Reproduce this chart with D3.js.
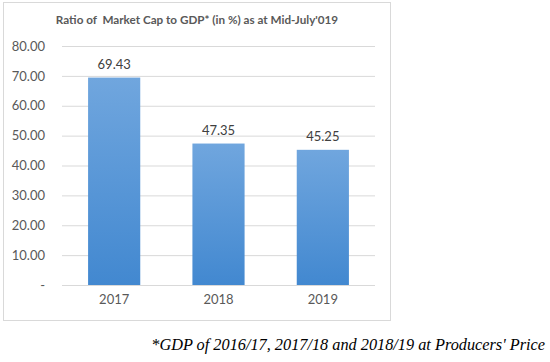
<!DOCTYPE html>
<html>
<head>
<meta charset="utf-8">
<script src="https://cdn.jsdelivr.net/npm/d3@7"></script>
<style>
  body { margin: 0; background: #fff; }
  svg { display: block; }
</style>
</head>
<body>
<div id="chart"></div>
<script>
const years = ["2017", "2018", "2019"];
const ratios = [69.43, 47.35, 45.25];
const yTicks = [0, 10, 20, 30, 40, 50, 60, 70, 80];

const width = 550, height = 362;
const svg = d3.select("#chart").append("svg")
    .attr("width", width).attr("height", height);

// gradient for the bars
var grad = svg.append("defs").append("linearGradient")
    .attr("id", "barGrad").attr("x1", 0).attr("y1", 0).attr("x2", 0).attr("y2", 1);
grad.append("stop").attr("offset", "0%").attr("stop-color", "#70a6de");
grad.append("stop").attr("offset", "100%").attr("stop-color", "#4288d0");

// chart frame
svg.append("rect")
    .attr("x", 3.5).attr("y", 2.5)
    .attr("width", 387).attr("height", 318)
    .attr("fill", "none").attr("stroke", "#d9d9d9");

const x = d3.scaleBand().domain(years).range([62, 375])
    .paddingInner(0.5).paddingOuter(0.25);
const y = d3.scaleLinear().domain([0, 80]).range([285, 46]);

const font = "Lato, 'Open Sans', sans-serif";

// title
svg.append("text")
    .attr("x", 197).attr("y", 24)
    .attr("text-anchor", "middle")
    .style("font-family", font)
    .style("font-size", "11.7px")
    .style("font-weight", "bold")
    .style("white-space", "pre")
    .style("fill", "#595959")
    .text("Ratio of  Market Cap to GDP* (in %) as at Mid-July'019");

// y axis with grid
const yAxis = d3.axisLeft(y)
    .tickValues(yTicks)
    .tickSize(-(375 - 62))
    .tickPadding(17)
    .tickFormat(function(d) { return d === 0 ? "-" : d3.format(".2f")(d); });

const gy = svg.append("g").attr("transform", "translate(62,0)").call(yAxis);
gy.select(".domain").remove();
gy.selectAll(".tick line").attr("stroke", "#d9d9d9");
gy.selectAll(".tick text")
    .style("font-family", font)
    .style("font-size", "13px")
    .style("fill", "#595959");

// bars
svg.selectAll("rect.bar")
    .data(ratios)
    .enter()
    .append("rect")
    .attr("class", "bar")
    .attr("x", function(d, i) { return x(years[i]); })
    .attr("y", function(d) { return y(d); })
    .attr("width", x.bandwidth())
    .attr("height", function(d) { return y(0) - y(d); })
    .attr("fill", "url(#barGrad)");

// value labels
svg.selectAll("text.val")
    .data(ratios)
    .enter()
    .append("text")
    .attr("class", "val")
    .attr("x", function(d, i) { return x(years[i]) + x.bandwidth() / 2; })
    .attr("y", function(d) { return y(d) - 9; })
    .attr("text-anchor", "middle")
    .style("font-family", font)
    .style("font-size", "13px")
    .style("fill", "#404040")
    .text(function(d) { return d3.format(".2f")(d); });

// x axis labels
const xAxis = d3.axisBottom(x).tickSize(0).tickPadding(10);
const gx = svg.append("g").attr("transform", "translate(0,285)").call(xAxis);
gx.select(".domain").remove();
gx.selectAll(".tick text")
    .style("font-family", font)
    .style("font-size", "13px")
    .style("fill", "#595959");

// footnote
svg.append("text")
    .attr("x", 545).attr("y", 350)
    .attr("text-anchor", "end")
    .style("font-family", "'Liberation Serif', 'Times New Roman', serif")
    .style("font-style", "italic")
    .style("font-size", "16.3px")
    .style("fill", "#000")
    .text("*GDP of 2016/17, 2017/18 and 2018/19 at Producers' Price");
</script>
</body>
</html>
